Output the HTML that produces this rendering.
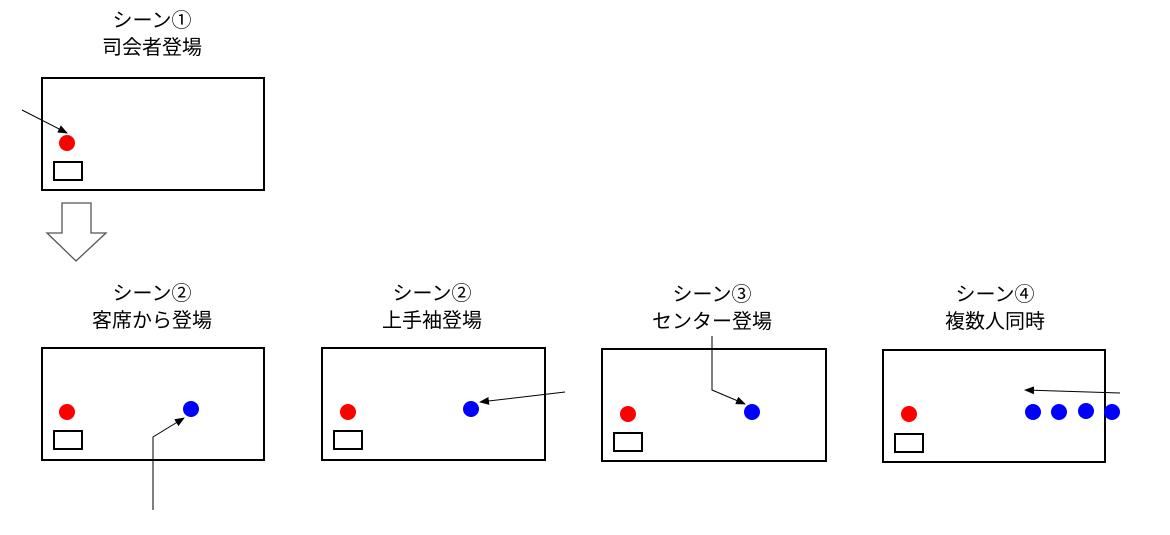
<!DOCTYPE html>
<html><head><meta charset="utf-8"><style>
html,body{margin:0;padding:0;background:#fff;}
svg text{font-family:"Liberation Sans","Noto Sans CJK JP",sans-serif;font-size:20px;fill:#000;text-anchor:middle;}
</style></head><body>
<svg width="1170" height="530" viewBox="0 0 1170 530" xmlns="http://www.w3.org/2000/svg">
<defs><marker id="a" markerWidth="10" markerHeight="8" refX="9" refY="4" orient="auto" markerUnits="userSpaceOnUse"><path d="M0,0 L10,4 L0,8 z" fill="#000"/></marker></defs>
<g fill="none" stroke="#000" stroke-width="2">
<rect x="42" y="78" width="222" height="112"/>
<rect x="54" y="162" width="28" height="18"/>
<rect x="42" y="348" width="222" height="112"/>
<rect x="54" y="431" width="28" height="18"/>
<rect x="322" y="348" width="223" height="112"/>
<rect x="334" y="431" width="28" height="18"/>
<rect x="602" y="349" width="224" height="112"/>
<rect x="614" y="433" width="28" height="18"/>
<rect x="883" y="350" width="222" height="112"/>
<rect x="895" y="434" width="28" height="18"/>
</g>
<path d="M62,203 L91,203 L91,233 L106,233 L76,261 L47,233 L62,233 z" fill="#fff" stroke="#555" stroke-width="1.3"/>
<g fill="#f00"><circle cx="67" cy="143" r="8"/><circle cx="67" cy="412" r="8"/><circle cx="348" cy="412" r="8"/><circle cx="628" cy="414" r="8"/><circle cx="909" cy="414" r="8"/></g>
<g fill="#00f"><circle cx="191" cy="409" r="8"/><circle cx="471" cy="409" r="8"/><circle cx="752" cy="412" r="8"/><circle cx="1033" cy="412" r="8"/><circle cx="1059" cy="412" r="8"/><circle cx="1086" cy="411" r="8"/><circle cx="1112" cy="412" r="8"/></g>
<g stroke="#000" stroke-width="1" fill="none" marker-end="url(#a)">
<line x1="22" y1="110" x2="67" y2="133"/>
<polyline points="153,510 153,437 184,418"/>
<line x1="565" y1="392" x2="480" y2="402"/>
<polyline points="712,336 712,390 745,404"/>
<line x1="1120" y1="393" x2="1025" y2="390"/>
</g>
<text x="152" y="27">シーン①</text><text x="152" y="54">司会者登場</text>
<text x="152" y="300">シーン②</text><text x="152" y="327">客席から登場</text>
<text x="432" y="300">シーン②</text><text x="432" y="327">上手袖登場</text>
<text x="712" y="301">シーン③</text><text x="712" y="328">センター登場</text>
<text x="995" y="301">シーン④</text><text x="995" y="328">複数人同時</text>
</svg>
</body></html>
